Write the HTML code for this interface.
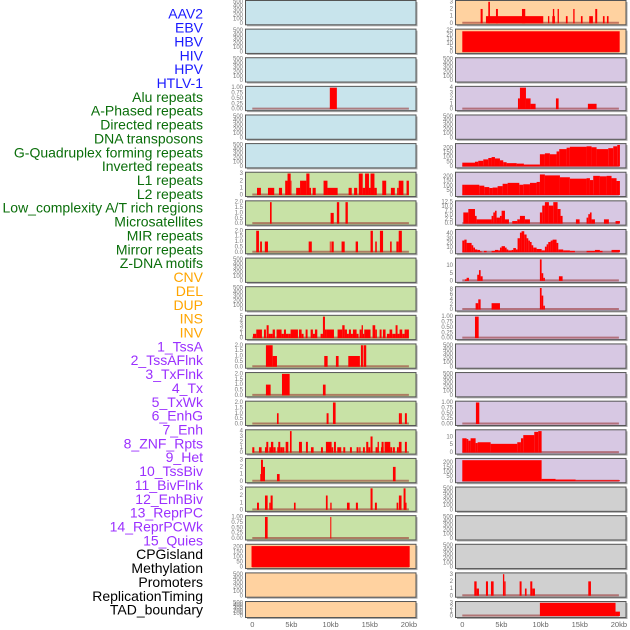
<!DOCTYPE html>
<html><head><meta charset="utf-8"><style>
html,body{margin:0;padding:0;background:#fff;width:630px;height:630px;overflow:hidden}
svg{display:block;font-family:"Liberation Sans",sans-serif}
</style></head><body>
<svg id="chart" width="630" height="630" viewBox="0 0 630 630" xmlns="http://www.w3.org/2000/svg"></svg>
<script>
const labelNames = ["AAV2","EBV","HBV","HIV","HPV","HTLV-1","Alu repeats","A-Phased repeats","Directed repeats","DNA transposons","G-Quadruplex forming repeats","Inverted repeats","L1 repeats","L2 repeats","Low_complexity A/T rich regions","Microsatellites","MIR repeats","Mirror repeats","Z-DNA motifs","CNV","DEL","DUP","INS","INV","1_TssA","2_TssAFlnk","3_TxFlnk","4_Tx","5_TxWk","6_EnhG","7_Enh","8_ZNF_Rpts","9_Het","10_TssBiv","11_BivFlnk","12_EnhBiv","13_ReprPC","14_ReprPCWk","15_Quies","CPGisland","Methylation","Promoters","ReplicationTiming","TAD_boundary"];
const labelGroups = [6,13,5,15,5];
const groupColors = ["#1a1aff","#0a6e0a","#ffa500","#9b30ff","#000000"];
const xTickValues = [0,5,10,15,20];
const xTickLabels = ["0","5kb","10kb","15kb","20kb"];

const EMPTY = [0,100,200,300,400,500];
const Q = [0,0.25,0.5,0.75,1];
const H2 = [0,0.5,1,1.5,2];
// left panels: background, ticks, ymax, decimals
const leftBg = ["b","b","b","b","b","b","g","g","g","g","g","g","g","g","g","g","g","g","g","o","o","o"];
const rightBg = ["o","o","p","p","p","p","p","p","p","p","p","p","p","p","p","p","p","y","y","y","y","y"];
const leftTicks = [EMPTY,EMPTY,EMPTY,Q,EMPTY,EMPTY,[0,1,2,3],H2,H2,EMPTY,EMPTY,[0,1,2,3,4,5],H2,H2,H2,[0,1,2,3,4],[0,1,2,3],[0,1,2,3],Q,[0,50,100,150,200],EMPTY,EMPTY];
const leftYMax = [500,500,500,1,500,500,3,2,2,500,500,5,2,2,2,4,3,3,1,215,500,500];
const leftDec = [0,0,0,2,0,0,0,1,1,0,0,0,1,1,1,0,0,0,2,0,0,0];
const rightTicks = [[0,1,2,3],[0,5,10,15,20,25],EMPTY,[0,1,2,3,4],EMPTY,[0,50,100,150,200],[0,50,100,150,200],[0,2.5,5,7.5,10,12.5],[0,10,20,30,40],[0,5,10],[0,2,4,6,8],Q,EMPTY,EMPTY,Q,[0,5,10],[0,50,100,150,200],EMPTY,EMPTY,EMPTY,[0,1,2,3],[0,1,2,3]];
const rightYMax = [3,25,500,4,500,230,230,12.5,46,14,8.5,1,500,500,1,13.5,230,500,500,500,3,3];
const rightDec = [0,0,0,0,0,0,0,1,0,0,0,2,0,0,2,0,0,0,0,0,0,0];

// bars: [startKb, endKb, value]
const L3 = [[9.9,10.8,1]];
const L6 = [[0.6,1.1,1],[2.0,2.8,1],[3.4,3.8,1],[4.2,4.5,2],[4.5,4.9,3],[4.9,5.0,2],[5.6,6.1,1],[6.1,6.9,2],[6.9,7.3,3],[7.3,7.5,1],[7.7,8.1,1],[9.1,9.6,2],[9.6,10.9,1],[12.3,12.7,1],[13.0,13.4,1],[13.6,14.1,3],[14.1,14.4,1],[14.4,14.9,3],[14.9,15.1,1],[15.1,15.6,3],[15.6,15.9,1],[16.6,17.1,2],[17.7,18.2,1],[18.5,18.7,1],[18.7,19.3,2],[19.7,20.0,2]];
const L7 = [[2.26,2.47,2],[10.0,10.4,1],[10.8,11.1,2],[11.9,12.2,2]];
const L8 = [[0.5,0.85,2],[1.0,1.23,1],[1.6,2.0,1],[7.2,7.6,1],[9.9,10.0,1],[10.1,10.4,1],[11.4,11.8,1],[13.2,13.5,1],[15.1,15.4,2],[15.7,15.9,1],[16.3,16.7,2],[17.6,17.8,1],[18.4,18.7,1],[18.7,19.1,2]];
const L11 = [[0.09,0.51,1],[0.51,1.23,2],[1.49,1.74,2],[1.83,2.09,3],[2.09,2.38,1],[2.38,2.6,1],[2.6,2.89,2],[3.1,3.74,2],[3.74,4.04,1],[4.04,4.3,2],[4.3,4.6,1],[4.6,4.89,1],[4.89,5.83,2],[5.96,6.3,2],[6.3,6.55,1],[6.81,7.06,2],[7.45,7.74,2],[7.74,8.0,1],[8.0,8.3,2],[8.72,9.02,1],[9.02,9.28,5],[9.28,9.53,2],[9.53,10.43,2],[10.89,11.49,2],[11.49,11.79,3],[11.79,12.09,2],[12.09,12.34,1],[12.34,12.6,2],[12.6,12.85,1],[12.85,13.32,2],[13.32,13.57,1],[13.7,13.96,2],[13.96,14.13,3],[14.13,14.3,1],[14.3,15.1,2],[15.36,15.7,3],[15.7,15.91,2],[16.26,16.51,2],[16.68,17.02,2],[17.19,17.53,1],[17.53,17.87,2],[17.87,18.3,1],[18.3,18.55,3],[18.55,18.81,1],[18.81,19.15,2],[19.15,19.45,1],[19.45,19.7,2],[19.7,20.0,2]];
const L12 = [[1.74,2.6,2],[2.6,3.15,1],[9.19,9.62,1],[10.68,11.02,1],[12.26,13.74,1],[13.87,14.13,2],[14.21,14.55,2]];
const L13 = [[1.74,2.34,1],[3.79,4.77,2],[9.02,9.36,1]];
const L14 = [[3.15,3.36,1],[9.49,9.74,1],[10.3,10.64,2],[18.72,18.94,1],[18.94,19.1,1],[19.49,19.74,1]];
const L15 = [[0,0.26,1],[0.85,1.19,1],[1.62,1.87,1],[1.79,2.04,2],[2.17,2.43,1],[2.38,2.68,2],[2.68,2.98,1],[3.19,3.45,1],[3.32,3.57,2],[3.57,3.83,1],[3.83,4.09,1],[4.26,4.6,2],[4.81,5.02,4],[5.96,6.34,2],[6.85,7.1,2],[7.49,7.83,1],[8.77,9.02,1],[9.4,10.13,2],[10.13,10.34,1],[10.43,10.68,2],[10.85,11.36,1],[11.62,11.87,1],[12.47,12.72,1],[13.32,13.57,1],[13.66,13.83,1],[14.13,14.38,1],[14.55,14.81,2],[14.81,15.06,1],[15.1,15.36,3],[15.74,16.0,1],[16.0,16.17,2],[16.43,16.77,1],[16.51,16.77,2],[16.89,17.62,2],[17.62,17.87,1],[17.96,18.21,1],[18.47,18.72,1],[18.72,19.06,2],[19.49,19.74,2]];
const L16 = [[1.02,1.19,1],[1.11,1.36,3],[1.36,1.62,2],[3.15,3.49,1],[17.96,18.3,2]];
const L17 = [[0.6,0.85,1],[1.62,1.96,2],[2.17,2.34,1],[2.34,2.6,2],[5.32,5.53,1],[9.4,9.62,2],[9.96,10.13,1],[12.09,12.43,1],[13.23,13.49,1],[15.1,15.36,3],[15.66,15.91,1],[18.43,18.64,1],[18.72,19.06,2],[19.32,19.57,3],[19.57,19.7,1]];
const L18 = [[1.62,1.96,1],[9.96,10.09,1]];
const L19 = [[-0.1,20.1,210]];

const R0 = [[2.34,2.6,2],[3.02,10.34,1],[3.32,3.53,3],[4.3,4.55,2],[7.62,8.04,2],[10.94,11.11,1],[11.49,11.83,1],[11.57,11.74,2],[12.17,12.34,2],[13.23,13.45,1],[14.17,14.34,2],[15.15,15.36,1],[16.21,16.68,1],[16.98,17.23,2],[17.96,18.17,1],[18.47,18.68,1]];
const R1 = [[0,20.1,24]];
const R3 = [[7.11,7.36,2],[7.36,8.13,4],[8.13,8.72,2],[8.72,9.36,1],[11.96,12.3,2],[16.04,17.15,1]];
const R5 = [[0,1.62,40],[1.62,2.04,50],[2.04,2.68,60],[2.68,3.32,75],[3.32,3.74,90],[3.74,4.17,100],[4.17,4.81,85],[4.81,5.23,65],[5.23,5.66,45],[5.66,6.94,35],[6.94,7.87,30],[7.87,8.64,20],[8.64,9.91,20],[9.91,10.55,130],[10.55,11.19,140],[11.19,12.04,130],[12.04,12.38,160],[12.38,13.32,185],[13.32,13.74,200],[13.74,15.87,210],[15.87,16.51,215],[16.51,17.15,205],[17.15,18.64,185],[18.64,19.28,195],[19.28,19.79,215],[19.79,20.13,230]];
const R6 = [[0,0.34,110],[0.34,2.17,110],[2.17,2.81,100],[2.81,3.45,85],[3.45,3.87,75],[3.87,4.51,80],[4.51,5.15,95],[5.15,5.79,120],[5.79,7.28,130],[7.28,7.79,110],[7.79,8.64,115],[8.64,9.49,130],[9.49,9.91,140],[9.91,10.55,220],[10.55,12.47,210],[12.47,13.74,190],[13.74,15.87,175],[15.87,16.3,180],[16.3,16.72,160],[16.72,17.57,205],[17.57,18.43,200],[18.43,19.06,205],[19.06,19.7,180],[19.7,20.13,150]];
const R7 = [[0.13,0.77,6.5],[0.77,1.62,8.5],[1.62,1.83,4.5],[1.83,3.74,2.5],[3.74,3.96,4.5],[3.96,4.17,6.5],[4.17,4.38,7.5],[4.38,4.81,3.5],[4.81,5.02,4.5],[5.02,5.45,7.5],[5.45,5.96,2.5],[6.38,7.02,1.5],[7.02,7.36,2.5],[7.36,8.0,4.5],[8.0,8.64,2.5],[9.91,10.21,6.5],[10.21,10.55,10.5],[10.55,11.06,12.5],[11.06,11.62,10.5],[11.62,12.17,12.5],[12.17,12.55,8.5],[12.55,12.81,4.5],[14.51,14.98,2.5],[15.87,16.09,3.5],[16.09,16.3,5.5],[16.3,16.51,6.5],[16.51,16.94,2.5],[18.09,18.72,2.5],[19.57,20.13,1.5]];
const R8 = [[0,0.26,25],[0.26,0.55,27],[0.55,1.19,20],[1.19,1.4,15],[1.4,1.62,10],[1.62,1.91,6],[1.91,2.26,5],[2.26,2.47,2],[2.77,3.11,3],[3.74,4.17,3],[4.17,4.6,5],[4.6,4.81,4],[4.81,5.02,10],[5.02,5.45,13],[5.45,5.66,10],[5.66,5.87,6],[5.87,6.3,4],[6.3,6.51,5],[6.51,6.85,9],[6.85,7.06,6],[7.06,7.36,30],[7.36,7.57,42],[7.57,7.91,45],[7.91,8.21,38],[8.21,8.43,30],[8.43,8.64,25],[8.64,8.85,22],[8.85,9.06,15],[9.06,9.49,10],[9.49,10.13,7],[10.13,10.55,4],[10.55,10.77,12],[10.77,10.98,17],[10.98,11.28,22],[11.28,11.53,25],[11.53,12.04,27],[12.04,12.26,20],[12.26,12.89,6],[12.89,13.74,4],[13.74,14.38,3],[15.87,16.94,3],[16.94,17.57,5],[17.57,17.91,3],[19.06,20.13,5]];
const R9 = [[0.34,0.55,1],[0.55,0.85,2],[1.91,2.13,4],[2.13,2.34,7],[2.34,2.6,3],[9.91,10.13,14],[10.13,10.34,5],[10.34,10.55,2],[12.34,12.81,3]];
const R10 = [[1.7,2.04,2.5],[2.04,2.34,4],[3.74,4.81,2.5],[9.91,10.13,8.5],[10.13,10.34,5.5],[10.34,10.55,1.5]];
const R11 = [[1.62,2.09,1]];
const R14 = [[1.74,2.17,1]];
const R15 = [[0,0.55,9],[0.55,0.77,8.5],[0.77,1.06,7.5],[1.06,1.7,9],[1.7,1.96,6],[1.96,3.62,6.5],[3.62,7.02,5.5],[7.02,7.49,6.5],[7.49,7.79,9],[7.79,9.19,11],[9.19,9.7,13],[9.7,10.13,14]];
const R16 = [[0,10.13,225],[10.13,11.91,25],[11.91,14.47,18],[14.47,20.13,10]];
const R20 = [[1.53,1.83,2],[1.83,2.13,1],[3.02,3.28,2],[3.66,4.0,2],[5.19,5.36,3],[5.36,5.53,2],[7.32,7.57,2],[8.0,8.21,1],[8.68,8.94,2],[8.94,9.28,1],[16.09,16.43,2]];
const R21 = [[9.91,19.57,3],[19.57,20.13,1]];

const leftBars = [[],[],[],L3,[],[],L6,L7,L8,[],[],L11,L12,L13,L14,L15,L16,L17,L18,L19,[],[]];
const rightBars = [R0,R1,[],R3,[],R5,R6,R7,R8,R9,R10,R11,[],[],R14,R15,R16,[],[],[],R20,R21];

const NS = "http://www.w3.org/2000/svg";
const svg = document.getElementById("chart");
const bgColors = {b:"#c8e4ec",g:"#c8e2a6",o:"#ffd2a0",p:"#d7c8e3",y:"#d0d0d0"};
function mk(tag, attrs, parent){const e=document.createElementNS(NS,tag);for(const k in attrs)e.setAttribute(k,attrs[k]);(parent||svg).appendChild(e);return e;}

// labels
let li=0;
labelGroups.forEach((n,g)=>{for(let k=0;k<n;k++){
  const t=mk("text",{x:203,y:15+li*13.86,"text-anchor":"end","dominant-baseline":"middle","font-size":"14",fill:groupColors[g]});
  t.textContent=labelNames[li];
  
  
  li++;}});

function panelTop(i){return 0.5+i*28.62;}
function panelH(i){return i===21?16:24.3;}

function drawPanel(side,i){
  const px = side==="L"?245.5:455.5, pw=170.5;
  const x0 = side==="L"?252.3:462.3, kbw=7.83;
  const xs = kb=>x0+kb*kbw;
  const top=panelTop(i), h=panelH(i);
  const ticks = side==="L"?leftTicks[i]:rightTicks[i];
  const ymax = side==="L"?leftYMax[i]:rightYMax[i];
  const dec = side==="L"?leftDec[i]:rightDec[i];
  const bars = side==="L"?leftBars[i]:rightBars[i];
  const bg = side==="L"?leftBg[i]:rightBg[i];
  const yb=top+h-1.5, yt=top+1.3;
  const ys = v=>yb-(v/ymax)*(yb-yt);
  const g=mk("g",{});
  
  
  mk("rect",{x:px+1.5,y:top+1.5,width:pw,height:h,fill:"#aaa"},g);
  const r=mk("rect",{x:px,y:top,width:pw,height:h,fill:bgColors[bg],stroke:"#555","stroke-width":"1"},g);
  
  
  ticks.forEach(tv=>{
    const t=mk("text",{x:px-2.5,y:ys(tv),"text-anchor":"end","dominant-baseline":"middle","font-size":"6",fill:"#777"},g);
    t.textContent=tv.toFixed(dec);
    
    
  });
  if(bars.length){
    const bl=mk("line",{x1:xs(0),x2:xs(20),y1:yb-0.5,y2:yb-0.5,stroke:"rgba(150,40,40,0.55)","stroke-width":"2"},g);
    
    
  }
  bars.forEach(b=>{
    const y=ys(Math.min(b[2],ymax));
    const rb=mk("rect",{x:xs(b[0]),y:y,width:Math.max(0.8,xs(b[1])-xs(b[0])),height:yb-y,fill:"#ff0000"},g);
    
    
  });
}
for(let i=0;i<22;i++){drawPanel("L",i);drawPanel("R",i);}

// x axes
["L","R"].forEach(side=>{
  const x0 = side==="L"?252.3:462.3;
  xTickValues.forEach((v,k)=>{
    const t=mk("text",{x:x0+v*7.83,y:627,"text-anchor":"middle","font-size":"7.5",fill:"#666"});
    t.textContent=xTickLabels[k];
    
    
  });
});
</script>
</body></html>
